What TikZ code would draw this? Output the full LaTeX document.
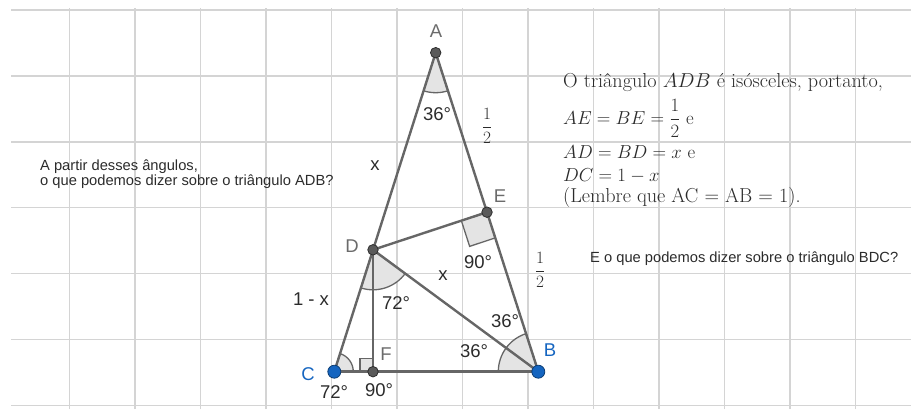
\RequirePackage{fix-cm}
\documentclass[tikz,border=0pt]{standalone}
\usepackage{amsmath}
\usepackage{fontspec}
\newfontfamily\ggb{Liberation Sans}
\usetikzlibrary{calc}
\definecolor{gridc}{HTML}{D4D4D4}
\definecolor{segc}{HTML}{666666}
\definecolor{ptc}{HTML}{5A5A5A}
\definecolor{ptd}{HTML}{2E2E2E}
\definecolor{bluep}{HTML}{1565C0}
\definecolor{labg}{HTML}{6B6B6B}
\definecolor{txt}{HTML}{2B2B2B}
\definecolor{angf}{HTML}{E4E4E4}
\begin{document}
\begin{tikzpicture}[x=1pt,y=1pt,
  gridline/.style={gridc, line width=1.4pt},
  seg/.style={segc, line width=2.4pt},
  ang/.style={fill=angf, draw=segc, line width=1.3pt},
  sq/.style={draw=segc, line width=1.3pt},
  dotd/.style={circle, fill=ptc, draw=ptd, line width=0.8pt, minimum size=10.5pt, inner sep=0pt},
  dotb/.style={circle, fill=bluep, draw=bluep!60!black, line width=0.8pt, minimum size=13pt, inner sep=0pt},
  lab/.style={font=\ggb\fontsize{18.5}{20}\selectfont, text=txt, inner sep=0pt},
  plab/.style={lab, text=labg},
  blab/.style={lab, text=bluep},
  frac/.style={font=\fontsize{17.3}{19}\selectfont, text=txt, inner sep=0pt},
  rtext/.style={font=\fontsize{20.2}{22}\selectfont, text=txt, anchor=base west, inner sep=0pt},
  rmath/.style={rtext, font=\fontsize{18.8}{21}\selectfont},
  qtext/.style={font=\ggb\fontsize{14.7}{16}\selectfont, text=txt, anchor=base west, inner sep=0pt}]
\useasboundingbox (0,0) rectangle (911,410);
% grid
\foreach \k in {0,...,6} \draw[gridline] (11,{400-65.92*\k}) -- (911,{400-65.92*\k});
\foreach \k in {0,...,12} \draw[gridline] ({69.3+65.5*\k},1) -- ({69.3+65.5*\k},402);
% points
\coordinate (A) at (435.7,357.3);
\coordinate (B) at (538.3,38.3);
\coordinate (C) at (334.3,38.3);
\coordinate (D) at (373,160.2);
\coordinate (E) at (487,197.8);
\coordinate (F) at (373,38.3);
% angle sectors
\path[ang] (A) -- ++(252.37:40pt) arc[start angle=252.37, end angle=287.83, radius=40pt] -- cycle;
\path[ang] (D) -- ++(252.4:40pt) arc[start angle=252.4, end angle=323.6, radius=40pt] -- cycle;
\path[ang] (B) -- ++(107.83:40pt) arc[start angle=107.83, end angle=143.6, radius=40pt] -- cycle;
\path[ang] (B) -- ++(143.6:40pt) arc[start angle=143.6, end angle=180, radius=40pt] -- cycle;
\path[ang] (C) -- ++(0:19pt) arc[start angle=0, end angle=72.37, radius=19pt] -- cycle;
% right angles
\coordinate (e1) at ($(E)!27pt!(D)$);
\coordinate (e2) at ($(E)!27pt!(B)$);
\coordinate (e3) at ($(e1)+(e2)-(E)$);
\path[sq, fill=angf] (E) -- (e1) -- (e3) -- (e2) -- cycle;
\coordinate (f1) at (360,38.3);
\coordinate (f2) at (360,51.3);
\coordinate (f3) at (373,51.3);
\path[sq, fill=angf] (F) -- (f1) -- (f2) -- (f3) -- cycle;
% segments
\draw[seg] (A) -- (C);
\draw[seg] (A) -- (B);
\draw[seg] (C) -- (B);
\draw[seg] (D) -- (E);
\draw[seg] (D) -- (B);
\draw[seg] (D) -- (F);
% dots
\node[dotd] (pA) at (A) {};
\node[dotd] (pD) at (D) {};
\node[dotd] (pE) at (E) {};
\node[dotd] (pF) at (F) {};
\node[dotb] (pB) at (B) {};
\node[dotb] (pC) at (C) {};
% point labels
\node[plab] (lA) at (436,379) {A};
\node[plab] (lD) at (352,164) {D};
\node[plab] (lE) at (500,214) {E};
\node[plab] (lF) at (386,56) {F};
\node[blab] (lB) at (550,60) {B};
\node[blab] (lC) at (308,36) {C};
% angle labels
\node[lab] (a1) at (437,296) {36°};
\node[lab] (a2) at (396,107) {72°};
\node[lab] (a3) at (505,89) {36°};
\node[lab] (a4) at (474,59) {36°};
\node[lab] (a5) at (334,18) {72°};
\node[lab] (a6) at (379,20) {90°};
\node[lab] (a7) at (478,148) {90°};
% side labels
\node[lab] (x1) at (375,244) {x};
\node[lab] (x2) at (443,134) {x};
\node[lab] (x3) at (311,111) {1 - x};
\node[frac] (h1) at (487,284) {$\dfrac{1}{2}$};
\node[frac] (h2) at (540,140) {$\dfrac{1}{2}$};
% right text
\node[rtext] (t1) at (563,322.7) {O triângulo $ADB$ é isósceles, portanto,};
\node[rmath] (t2) at (563,285.5) {$AE = BE = \dfrac{1}{2}$ e};
\node[rmath] (t3) at (563,251) {$AD = BD = x$ e};
\node[rmath] (t4) at (563,228.5) {$DC = 1 - x$};
\node[rtext] (t5) at (563,207.5) {(Lembre que AC = AB = 1).};
% questions
\node[qtext] (q1) at (40,239.3) {A partir desses ângulos,};
\node[qtext] (q2) at (40,224) {o que podemos dizer sobre o triângulo ADB?};
\node[qtext] (q3) at (590,147.7) {E o que podemos dizer sobre o triângulo BDC?};
\end{tikzpicture}
\end{document}
